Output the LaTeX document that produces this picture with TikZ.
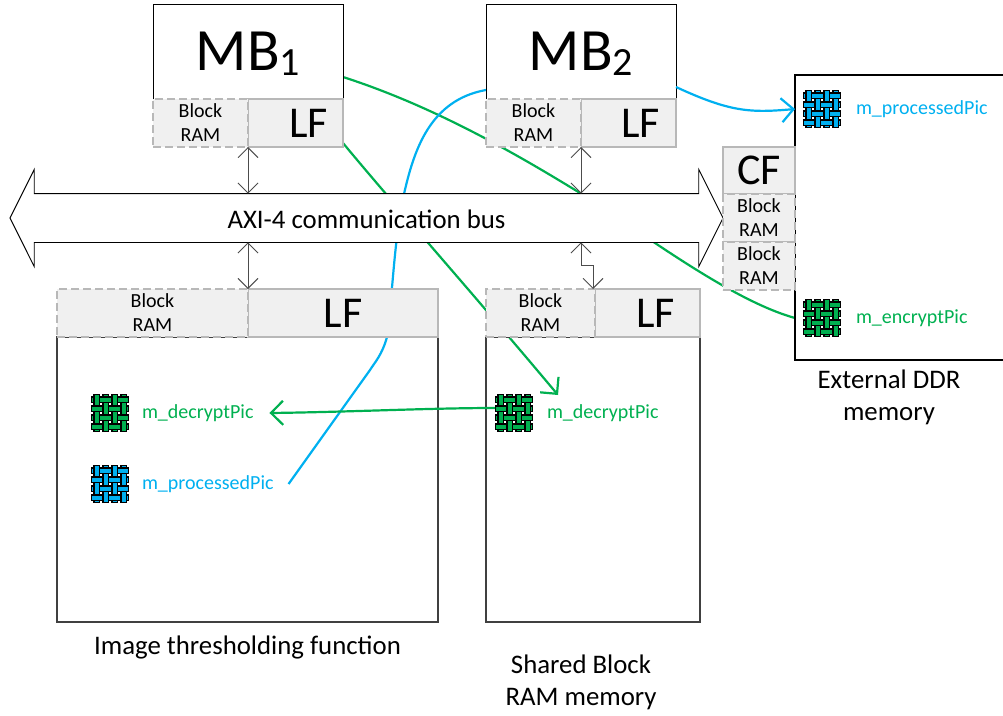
\documentclass[tikz,border=0pt]{standalone}
\usepackage{fontspec}
\setmainfont{Carlito}
\usetikzlibrary{positioning}
\usetikzlibrary{arrows.meta}
\usetikzlibrary{shapes.arrows}
\usetikzlibrary{backgrounds}
\definecolor{picgreen}{HTML}{00B050}
\definecolor{picblue}{HTML}{00B0F0}
\definecolor{cellgrey}{HTML}{F0F0F0}
\definecolor{cellline}{HTML}{B8B8B8}
\newcommand{\bigfont}{\fontsize{60}{60}\selectfont}
\newcommand{\lffont}{\fontsize{44}{44}\selectfont}
\newcommand{\ramfont}{\fontsize{20}{24}\selectfont}
\newcommand{\capfont}{\fontsize{26.8}{32}\selectfont}
\newcommand{\picfont}{\fontsize{20}{20}\selectfont}
\newcommand{\mbsub}[1]{\smash{\raisebox{-5pt}{\fontsize{40}{40}\selectfont #1}}}
\tikzset{
	mbbox/.style={draw=black, fill=white, line width=.9, minimum width=190, minimum height=95},
	lfbox/.style={draw=cellline, fill=cellgrey, line width=1.2, font=\lffont, minimum height=48},
	rambox/.style={draw=cellline, fill=cellgrey, line width=1.2, dash pattern=on 8pt off 4pt, font=\ramfont, align=center, minimum height=48},
	membox/.style={draw=black!75, line width=1.1},
	businout/.style={{Straight Barb[length=10pt,width=20pt]}-{Straight Barb[length=10pt,width=20pt]}, draw=black!70, line width=.9},
	greenline/.style={picgreen, line width=2.2},
	blueline/.style={picblue, line width=2.2},
	picend/.style={-{Straight Barb[length=12pt,width=24pt,line width=2.2pt]}},
	pics/weave/.style={code={
		\foreach \i in {-13.5,-4.5,4.5,13.5} {
			\draw[black, line width=7] (-19,\i) -- (19,\i);
			\draw[#1, line width=4] (-18,\i) -- (18,\i);
		}
		\foreach \i in {-13.5,-4.5,4.5,13.5} {
			\draw[black, line width=7] (\i,-19) -- (\i,19);
			\draw[#1, line width=4] (\i,-18) -- (\i,18);
		}
		\foreach \i [count=\a] in {-13.5,-4.5,4.5,13.5} {
			\foreach \j [count=\b] in {-13.5,-4.5,4.5,13.5} {
				\pgfmathparse{int(mod(\a+\b,2))}
				\ifnum\pgfmathresult=1
					\draw[black, line width=7] (\i-3.5,\j) -- (\i+3.5,\j);
					\draw[#1, line width=4] (\i-4.5,\j) -- (\i+4.5,\j);
				\fi
			}
		}
	}}
}
\begin{document}
\begin{tikzpicture}[x=1pt, y=-1pt, every node/.style={inner sep=0, outer sep=0}, node distance=0pt]
	\path[use as bounding box, clip] (0,0) rectangle (1003,715);

	%Nodes
	\node[mbbox, font=\bigfont] (mb1) at (248,51.5) {MB\mbsub{1}};
	\node[lfbox, minimum width=95] (lf1) [below=of mb1.south east, anchor=north east] {\hspace{26pt}LF};
	\node[rambox, minimum width=95] (ram1) [below=of mb1.south west, anchor=north west] {Block\\RAM};

	\node[mbbox, font=\bigfont] (mb2) at (581,51.5) {MB\mbsub{2}};
	\node[lfbox, minimum width=95] (lf2) [below=of mb2.south east, anchor=north east] {\hspace{24pt}LF};
	\node[rambox, minimum width=95] (ram2) [below=of mb2.south west, anchor=north west] {Block\\RAM};

	\node[double arrow, draw=black, fill=white, line width=.9, minimum height=713, minimum width=96,
		double arrow head extend=24, double arrow tip angle=126.87, font=\capfont,
		text height=20, text depth=0, inner ysep=14] (bus) at (366.5,218) {AXI-4 communication bus};

	\node[membox, minimum width=381, minimum height=285] (thresh) at (247.5,479.5) {};
	\node[lfbox, minimum width=190] (lf3) [above=of thresh.north east, anchor=south east] {LF};
	\node[rambox, minimum width=191] (ram3) [above=of thresh.north west, anchor=south west] {Block\\RAM};
	\node[font=\capfont] (threshcap) [below=of thresh.south, yshift=-14] {Image thresholding function};

	\node[membox, minimum width=214, minimum height=285] (shared) at (593,479.5) {};
	\node[lfbox, minimum width=105] (lf4) [above=of shared.north east, anchor=south east] {\hspace{16pt}LF};
	\node[rambox, minimum width=109] (ram4) [above=of shared.north west, anchor=south west] {Block\\RAM};
	\node[font=\capfont, align=center] (sharedcap) at (581,682) {Shared Block\\RAM memory};

	\node[membox, draw=black, minimum width=225, minimum height=285] (ddr) at (907.5,217.5) {};
	\node[lfbox, minimum width=72, minimum height=47] (cf) at (759,170.5) {CF};
	\node[rambox, minimum width=72] (ram5) [below=of cf] {Block\\RAM};
	\node[rambox, minimum width=72] (ram6) [below=of ram5] {Block\\RAM};
	\node[font=\capfont, align=center] (ddrcap) at (889,397) {External DDR\\memory};

	\pic at (110,413) {weave=picgreen};
	\pic at (110,484) {weave=picblue};
	\pic at (514,413) {weave=picgreen};
	\pic at (822,109) {weave=picblue};
	\pic at (822,318) {weave=picgreen};

	\node[font=\picfont, text=picgreen, anchor=west] (dec1) at (142,413) {m\_decryptPic};
	\node[font=\picfont, text=picblue, anchor=west] (proc1) at (142,484) {m\_processedPic};
	\node[font=\picfont, text=picgreen, anchor=west] (dec2) at (547,413) {m\_decryptPic};
	\node[font=\picfont, text=picblue, anchor=west] (proc2) at (856,109) {m\_processedPic};
	\node[font=\picfont, text=picgreen, anchor=west] (enc) at (856,318) {m\_encryptPic};

	\coordinate (dec2start) at (495,408);
	\coordinate (dec2end) at (558,395);

	%Lines
	\draw[businout] (ram1.south east) -- (ram1.south east |- bus.north);
	\draw[businout] (ram2.south east) -- (ram2.south east |- bus.north);
	\draw[businout] (bus.south -| ram3.north east) -- (ram3.north east);
	\draw[businout] ([xshift=-14]bus.south -| lf4.north west) -- ++(0,23) -- ++(12,0) -- ([xshift=-2]ram4.north east);

	\draw[greenline, picend] (dec2start) .. controls (430,408) and (350,412) .. ([xshift=16]dec1.east);

	\begin{pgfonlayer}{background}
		\draw[greenline] ([yshift=-25.5]mb1.east) .. controls (430,105) and (510,150) .. (580,193) .. controls (640,231) and (730,300) .. (ddr.west |- enc.west);
		\draw[greenline, picend] ([yshift=4]lf1.south east) .. controls (390,200) and (470,290) .. (dec2end);
		\draw[blueline] ([yshift=-38.5]mb2.west) .. controls (430,100) and (414,150) .. (404,194) .. controls (394,240) and (393,290) .. (387,337) .. controls (382,355) and (375,362) .. (370,370) -- ([xshift=15]proc1.east);
	\end{pgfonlayer}
	\draw[blueline, picend] ([yshift=-35.5]mb2.east) .. controls (730,112) and (750,113) .. (ddr.west |- proc2.west);
\end{tikzpicture}
\end{document}
